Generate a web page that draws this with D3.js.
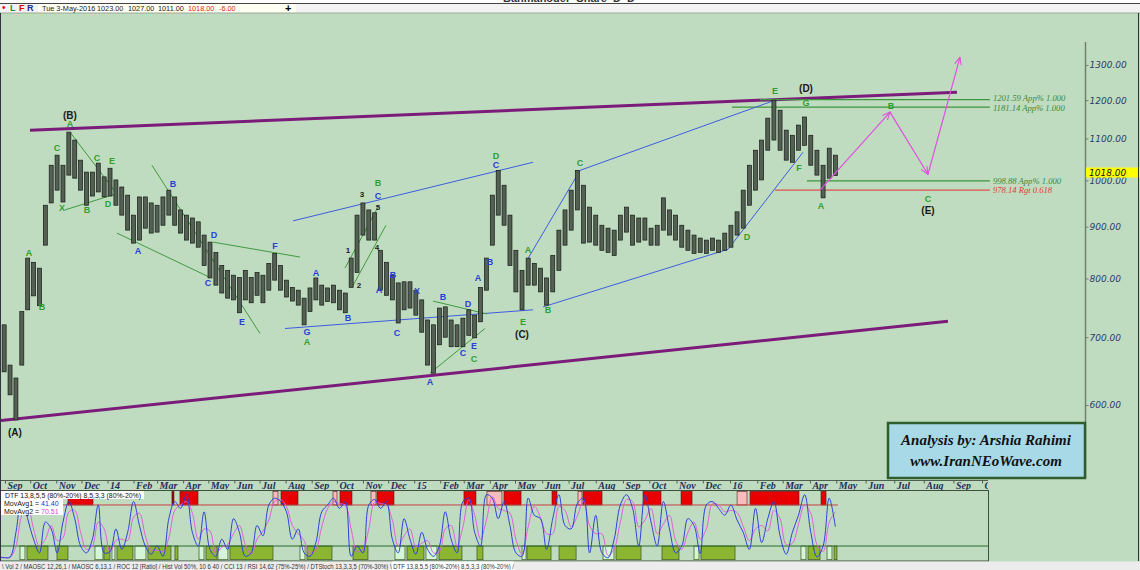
<!DOCTYPE html>
<html><head><meta charset="utf-8">
<script src="https://cdn.jsdelivr.net/npm/d3@7"></script>
<style>html,body{margin:0;padding:0;background:#fff;} svg{display:block;}</style>
</head><body><svg id="c" width="1140" height="570"></svg>
<script>
// ---------------- DATA ----------------
const weekStart = new Date(2013, 7, 24); // weekly bars start
const barHigh = [740,720,657,638,742,838,830,819,945,1035,
1059,1035,1116,1096,1047,1019,1019,1040,1008,1028,
1001,985,967,924,963,963,950,945,963,978,
963,935,924,918,910,883,869,849,824,815,
806,802,815,802,811,806,828,847,824,797,
784,779,765,783,801,788,783,788,779,774,
838,924,950,935,929,853,830,806,792,794,
794,779,762,728,720,748,750,728,720,731,
745,736,784,838,967,1023,989,924,853,815,
838,828,819,801,843,893,935,978,1023,989,
941,924,903,897,893,924,941,924,918,918,
897,903,961,935,924,903,893,883,877,873,
877,873,887,903,931,978,1035,1071,1096,1152,
1200,1173,1121,1108,1134,1155,1108,1071,1035,1076,
1059];
const barLow = [677,647,614,580,657,745,769,752,863,950,
978,952,1012,1005,978,945,965,974,963,965,
945,924,893,867,873,897,887,889,903,924,
903,887,873,867,859,824,801,788,774,765,
762,740,762,757,770,757,779,797,779,767,
760,753,720,742,762,753,759,757,745,740,
784,811,883,873,873,779,770,762,723,745,
748,736,708,657,645,688,700,685,685,685,
703,699,725,779,863,924,903,824,776,745,
788,788,776,753,776,815,863,893,935,867,
869,863,853,849,843,873,889,863,869,873,
863,863,893,883,873,859,853,847,849,847,
853,849,853,859,883,897,945,978,1001,1071,
1096,1071,1047,1042,1071,1083,1035,1012,961,1005,
1011];
const lastPrice = 1018;
const priceTicks = [600,700,800,900,1000,1100,1200,1300];
const monthLabels = ["Sep","Oct","Nov","Dec","14","Feb","Mar","Apr","May","Jun","Jul","Aug",
"Sep","Oct","Nov","Dec","15","Feb","Mar","Apr","May","Jun","Jul","Aug",
"Sep","Oct","Nov","Dec","16","Feb","Mar","Apr","May","Jun","Jul","Aug","Sep","Oct"];

// oscillator (DTF) weekly values
const movAvg1 = [3,3,4,40,95,60,30,10,55,45,
10,55,85,60,20,10,30,80,10,12,
45,15,40,85,50,20,8,20,5,60,
85,75,95,40,20,70,15,5,30,15,
60,40,5,10,50,35,80,90,85,70,
30,45,10,5,25,70,80,90,75,85,
5,20,10,80,88,75,85,30,10,60,
30,8,40,15,5,20,70,30,10,85,
90,40,20,95,90,60,85,50,10,5,
90,65,60,15,60,95,50,45,82,90,
10,65,10,3,30,80,95,75,20,95,
55,20,85,45,10,20,60,50,9,80,
85,75,65,80,58,40,15,75,25,60,
85,35,8,40,65,95,40,4,20,90,
48];
const movAvg2 = [5,3,3,20,65,78,45,20,30,50,
28,32,70,72,40,15,20,55,45,11,
28,30,28,62,68,35,14,14,12,32,
72,80,85,68,30,45,42,10,18,22,
38,50,22,8,30,42,58,85,88,78,
50,38,28,8,15,48,75,85,82,80,
45,12,15,45,84,82,80,58,20,35,
45,19,24,28,10,12,45,50,20,48,
88,65,30,58,92,75,72,68,30,8,
48,78,62,38,38,78,72,48,64,86,
50,38,38,6,16,55,88,85,48,58,
75,38,52,65,28,15,40,55,30,45,
82,80,70,72,69,49,28,45,50,42,
72,60,22,24,52,80,68,22,12,55,
70];
const movAvg1Last = "41.40", movAvg2Last = "70.51";
// zone boxes [startWeek, endWeek, kind]
const topBoxes = [[11.85,16.10,"r"],[29.53,29.87,"d"],[30.89,33.96,"r"],[46.71,47.56,"p"],[48.07,50.96,"r"],
[56.91,57.59,"p"],[58.10,60.14,"r"],[63.37,64.22,"p"],[64.39,67.28,"r"],[79.18,81.22,"r"],
[83.09,85.64,"p"],[85.98,88.84,"r"],[93.88,94.69,"r"],[98.11,98.76,"p"],[98.93,102.02,"r"],
[108.69,111.62,"r"],[114.88,116.67,"r"],[124.00,125.62,"p"],[126.11,134.08,"r"],[137.66,138.48,"r"]];
const bottomBoxes = [[3.69,4.54,"l"],[4.88,8.45,"g"],[9.98,11.85,"g"],[16.44,17.80,"l"],[17.97,18.99,"g"],
[19.33,19.84,"l"],[20.18,22.90,"g"],[23.24,25.11,"l"],[25.45,29.36,"g"],[30.04,30.55,"g"],
[34.13,34.98,"l"],[35.31,37.19,"g"],[37.36,39.05,"l"],[39.39,46.71,"g"],[51.30,52.15,"l"],
[52.49,56.74,"g"],[60.31,62.86,"g"],[67.45,69.15,"l"],[69.49,72.38,"g"],[72.72,74.59,"l"],
[74.93,78.84,"g"],[81.39,82.41,"g"],[89.00,89.65,"l"],[89.81,93.72,"g"],[95.02,97.80,"g"],
[102.18,103.97,"l"],[104.30,108.37,"g"],[111.78,114.55,"g"],[116.99,117.80,"l"],[118.13,123.67,"g"],
[134.40,135.22,"l"],[135.55,137.50,"g"],[138.64,139.45,"l"],[139.78,140.26,"g"]];

// annotations [week, price, text]
const degreeLabels = [[2.84,563,"(A)"],[12.19,1160,"(B)"],[89.00,704,"(C)"],[135.22,1233,"(D)"],[153.91,933,"(E)"]];
const greenLabels = [[5.22,849,"A"],[7.43,750,"B"],[9.98,1076,"C"],[10.83,939,"X"],[12.19,1136,"A"],[15.08,935,"B"],
[16.78,1052,"C"],[18.65,948,"D"],[19.33,1045,"E"],[52.49,692,"A"],[64.56,994,"B"],[80.88,666,"C"],[84.62,1057,"D"],
[89.16,725,"E"],[89.97,853,"A"],[93.23,745,"B"],[98.44,1040,"C"],[125.62,879,"D"],[130.18,1225,"E"],[134.08,1030,"F"],
[135.22,1192,"G"],[137.66,943,"A"],[148.37,1184,"B"],[153.91,958,"C"]];
const blueLabels = [[23.75,851,"A"],[29.70,992,"B"],[35.65,792,"C"],[36.67,883,"D"],[41.43,725,"E"],[47.04,861,"F"],
[52.49,708,"G"],[54.01,811,"A"],[59.46,731,"B"],[64.56,965,"C"],[64.73,779,"A"],[67.11,806,"B"],[67.79,707,"C"],
[71.19,777,"X"],[75.61,767,"B"],[73.40,632,"A"],[79.01,675,"C"],[79.86,755,"D"],[80.88,686,"E"],[81.56,802,"A"],
[83.60,830,"B"],[84.62,1035,"C"]];
const numLabels = [[59.46,853,"1"],[61.33,788,"2"],[61.84,969,"3"],[64.39,859,"4"],[64.56,941,"5"]];
const purpleLines = [[[5.39,1121],[158.25,1222]],[[0.29,579],[156.9,726]]];
const blueLines = [[[48.75,714],[90.79,745]],[[50.11,912],[90.79,1042]],[[89.81,834],[98.44,1023]],
[[98.44,1023],[130.18,1200]],[[92.42,750],[122.53,855],[134.73,1066]]];
const greenLines = [[[12.19,1116],[20.35,967]],[[11.34,935],[19.84,969]],[[26.13,1035],[44.50,706]],
[[20.18,887],[35.99,802]],[[36.50,869],[51.30,840]],[[58.95,819],[64.56,941]],[[60.14,784],[65.92,903]],
[[73.91,760],[83.09,738]],[[73.40,645],[82.75,714]]];
const levels = [[1201.59,127.73,"1201.59 App% 1.000","g",-1.2],[1181.14,123.18,"1181.14 App% 1.000","g",1.2],
[998.88,135.38,"998.88 App% 1.000","g",0],[978.14,130.18,"978.14 Rgt 0.618","r",0]];
const levelEnd = 163.19;
const projection = [[137.5,978],[148.22,1168],[153.91,1014],[158.70,1323]];

// ---------------- SCALES ----------------
const svg = d3.select("#c");
const x = d3.scaleTime()
  .domain([new Date(2013,8,1), new Date(2015,4,1), new Date(2016,4,3), new Date(2016,9,1)])
  .range([5,515,838,982]);
const wd = w => new Date(weekStart.getTime() + w*7*864e5);
const xw = w => x(wd(w));
const y = d3.scaleLog().domain([600,1300]).range([405,65]);
const oy = d3.scaleLinear().domain([0,100]).range([559.7,491.3]);
const BG = "#c0dcc0";

svg.append("rect").attr("width",1140).attr("height",570).attr("fill",BG);

// header
svg.append("rect").attr("x",0).attr("y",0).attr("width",1140).attr("height",13).attr("fill","#f3f3f3");
svg.append("rect").attr("x",0).attr("y",0).attr("width",1140).attr("height",3).attr("fill","#fff");
svg.append("text").attr("x",569).attr("y",2).attr("text-anchor","middle").attr("font-family","Liberation Sans")
  .attr("font-size",11).attr("font-weight","bold").attr("fill","#333").text("Bahmanoder_Share_D_D");
svg.append("line").attr("x1",0).attr("x2",1140).attr("y1",3.5).attr("y2",3.5).attr("stroke","#444");
svg.append("rect").attr("x",38).attr("y",4).attr("width",258).attr("height",9).attr("fill","#fffff2");
svg.append("line").attr("x1",0).attr("x2",1140).attr("y1",13).attr("y2",13).attr("stroke","#9aa89a");
const hdr = svg.append("g").attr("font-family","Liberation Sans").attr("font-size",7.3);
hdr.append("text").attr("x",2).attr("y",11).attr("fill","#e00").attr("font-size",10).text("•");
hdr.append("text").attr("x",10).attr("y",11).attr("fill","#2a8a2a").attr("font-weight","bold").attr("font-size",9).text("L");
hdr.append("text").attr("x",19).attr("y",11).attr("fill","#d00").attr("font-weight","bold").attr("font-size",9).text("F");
hdr.append("text").attr("x",27).attr("y",11).attr("fill","#1a2aa0").attr("font-weight","bold").attr("font-size",9).text("R");
[["Tue 3-May-2016",42,"#222"],["1023.00",97,"#222"],["1027.00",128,"#222"],["1011.00",158,"#222"],
 ["1018.00",188,"#e02020"],["-6.00",219,"#e02020"]].forEach(t=>{
  hdr.append("text").attr("x",t[1]).attr("y",11).attr("fill",t[2]).text(t[0]);
});
hdr.append("text").attr("x",285).attr("y",12).attr("font-size",11).attr("font-weight","bold").attr("fill","#000").text("+");

// clip for main
svg.append("clipPath").attr("id","mc").append("rect").attr("x",1).attr("y",14).attr("width",1084).attr("height",465);
const main = svg.append("g").attr("clip-path","url(#mc)");

const line = d3.line().x(d=>xw(d[0])).y(d=>y(d[1]));

// purple channel
main.selectAll(".pl").data(purpleLines).join("path").attr("d",line)
  .attr("stroke","#7b1c7b").attr("stroke-width",3).attr("fill","none");

// levels
main.selectAll(".lv").data(levels).join("line")
  .attr("x1",d=>xw(d[1])).attr("x2",xw(levelEnd)).attr("y1",d=>y(d[0])).attr("y2",d=>y(d[0]))
  .attr("stroke",d=>d[3]==="g"?"#3c963c":"#e05050").attr("stroke-width",1.2);
main.selectAll(".lvt").data(levels).join("text")
  .attr("x",xw(levelEnd)+3).attr("y",d=>y(d[0])+d[4]).attr("dy","0.35em")
  .attr("font-family","Liberation Serif").attr("font-style","italic").attr("font-size",8.6)
  .attr("fill",d=>d[3]==="g"?"#3a8a3a":"#e03a3a").text(d=>d[2]);

// blue and green lines
main.selectAll(".bl").data(blueLines).join("path").attr("d",line)
  .attr("stroke","#3d5ce0").attr("stroke-width",1).attr("fill","none");
main.selectAll(".gl").data(greenLines).join("path").attr("d",line)
  .attr("stroke","#3f9a3f").attr("stroke-width",1).attr("fill","none");

// price bars
const bars = barHigh.map((h,i)=>({d:d3.timeDay.offset(weekStart,7*i),h,l:barLow[i]}));
main.selectAll(".bar").data(bars).join("rect")
  .attr("x",d=>x(d.d)-2).attr("width",4)
  .attr("y",d=>y(d.h)).attr("height",d=>y(d.l)-y(d.h))
  .attr("fill","#546054").attr("stroke","#141a14").attr("stroke-width",0.7);

// projection path (magenta)
const defs = svg.append("defs");
defs.append("marker").attr("id","ar").attr("viewBox","0 0 10 10").attr("refX",9).attr("refY",5)
  .attr("markerWidth",7).attr("markerHeight",7).attr("orient","auto-start-reverse")
  .append("path").attr("d","M0,1 L9,5 L0,9").attr("fill","none").attr("stroke","#e050e0").attr("stroke-width",1.3);
const segs = d3.pairs(projection);
main.selectAll(".pj").data(segs).join("path").attr("d",line)
  .attr("stroke","#e050e0").attr("stroke-width",1.2).attr("fill","none").attr("marker-end","url(#ar)");

// labels
function labels(data, color, size, weight){
  main.append("g").selectAll("text").data(data).join("text")
    .attr("x",d=>xw(d[0])).attr("y",d=>y(d[1])).attr("dy","0.35em").attr("text-anchor","middle")
    .attr("font-family","Liberation Sans").attr("font-size",size).attr("font-weight",weight)
    .attr("fill",color).text(d=>d[2]);
}
labels(greenLabels,"#2f9f2f",9,"bold");
labels(blueLabels,"#2a3fd6",9,"bold");
labels(numLabels,"#222",8,"bold");
labels(degreeLabels,"#1a1a1a",10,"bold");

// price axis
svg.append("line").attr("x1",1085.5).attr("x2",1085.5).attr("y1",42).attr("y2",478).attr("stroke","#6f826f").attr("stroke-width",1.5);
const ya = svg.append("g").attr("transform","translate(1085.5,0)")
  .call(d3.axisRight(y).tickValues(priceTicks).tickFormat(d3.format(".2f")).tickSize(3).tickPadding(1));
ya.select(".domain").remove();
ya.selectAll("line").attr("stroke","#6f826f");
ya.selectAll("text").attr("font-family","DejaVu Sans").attr("font-style","italic").attr("font-size",9).attr("fill","#2b3a6b");
svg.append("rect").attr("x",1086).attr("y",y(lastPrice)-5).attr("width",54).attr("height",10).attr("fill","#ffff00");
svg.append("text").attr("x",1089).attr("y",y(lastPrice)).attr("dy","0.35em").attr("font-family","DejaVu Sans")
  .attr("font-style","italic").attr("font-size",9).attr("fill","#111").text(lastPrice.toFixed(2));

// analysis box
svg.append("rect").attr("x",888).attr("y",423).attr("width",197).attr("height",55)
  .attr("fill","#a8d9e6").attr("stroke","#2e5e2e").attr("stroke-width",2.5);
svg.append("text").attr("x",986).attr("y",445).attr("text-anchor","middle").attr("font-family","Liberation Serif")
  .attr("font-style","italic").attr("font-weight","bold").attr("font-size",15).attr("fill","#111").text("Analysis by: Arshia Rahimi");
svg.append("text").attr("x",986).attr("y",466).attr("text-anchor","middle").attr("font-family","Liberation Serif")
  .attr("font-style","italic").attr("font-weight","bold").attr("font-size",15).attr("fill","#111").text("www.IranNEoWave.com");

// time axis
svg.append("clipPath").attr("id","tc").append("rect").attr("x",0).attr("y",470).attr("width",988).attr("height",25);
svg.append("line").attr("x1",0).attr("x2",988).attr("y1",480.5).attr("y2",480.5).attr("stroke","#4f5f4f");
const months = d3.timeMonth.range(new Date(2013,8,1), new Date(2016,10,1));
const xa = svg.append("g").attr("clip-path","url(#tc)").append("g").attr("transform","translate(0,480.5)")
  .call(d3.axisBottom(x).tickValues(months).tickFormat((d,i)=>monthLabels[i]).tickSize(3).tickPadding(0));
xa.select(".domain").remove();
xa.selectAll("line").attr("stroke","#4f5f4f");
xa.selectAll("text").attr("text-anchor","start").attr("dx","2").attr("dy","0.55em")
  .attr("font-family","Liberation Serif").attr("font-style","italic").attr("font-weight","bold")
  .attr("font-size",10).attr("fill","#24305e");

// oscillator panel
svg.append("rect").attr("x",0.5).attr("y",490.5).attr("width",988).attr("height",70.5).attr("fill","none").attr("stroke","#3f4f3f");
const osc = svg.append("g");
const boxColor = {r:"#e80000",d:"#9a0000",p:"#f8bcbc",g:"#8ab632",l:"#d4f6d4"};
osc.selectAll(".tb").data(topBoxes).join("rect")
  .attr("x",d=>xw(d[0])).attr("width",d=>Math.max(1,xw(d[1])-xw(d[0])))
  .attr("y",oy(100)).attr("height",oy(80)-oy(100))
  .attr("fill",d=>boxColor[d[2]]).attr("stroke","#5a1a1a").attr("stroke-width",0.6);
osc.selectAll(".bb").data(bottomBoxes).join("rect")
  .attr("x",d=>xw(d[0])).attr("width",d=>Math.max(1,xw(d[1])-xw(d[0])))
  .attr("y",oy(20)).attr("height",oy(0)-oy(20))
  .attr("fill",d=>boxColor[d[2]]).attr("stroke","#3a5220").attr("stroke-width",0.7);
osc.append("line").attr("x1",1).attr("x2",xw(140.4)).attr("y1",oy(80)).attr("y2",oy(80)).attr("stroke","#c84040");
osc.append("line").attr("x1",1).attr("x2",988).attr("y1",oy(20)).attr("y2",oy(20)).attr("stroke","#2c6a2c");
svg.append("clipPath").attr("id","oc").append("rect").attr("x",1).attr("y",491).attr("width",987).attr("height",70);
const oline = d3.line().x((d,i)=>xw(i)).y(d=>oy(d)).curve(d3.curveCatmullRom);
osc.append("path").attr("clip-path","url(#oc)").attr("d",oline(movAvg2)).attr("fill","none").attr("stroke","#e060e0").attr("stroke-width",1);
osc.append("path").attr("clip-path","url(#oc)").attr("d",oline(movAvg1)).attr("fill","none").attr("stroke","#2a40e0").attr("stroke-width",1);

// oscillator legend
const lg = svg.append("g").attr("font-family","Liberation Sans").attr("font-size",7);
lg.append("rect").attr("x",1).attr("y",491).attr("width",143).attr("height",8).attr("fill","#fff");
lg.append("rect").attr("x",1).attr("y",499).attr("width",62).attr("height",16).attr("fill","#fff");
lg.append("text").attr("x",5).attr("y",497.5).attr("fill","#111").attr("textLength",136).attr("lengthAdjust","spacingAndGlyphs")
  .text("DTF 13,8,5,5 (80%-20%) 8,5,3,3 (80%-20%)");
const t1 = lg.append("text").attr("x",4).attr("y",505.5).attr("fill","#111");
t1.append("tspan").text("MovAvg1 = "); t1.append("tspan").attr("fill","#2030e0").text(movAvg1Last);
const t2 = lg.append("text").attr("x",4).attr("y",513.5).attr("fill","#111");
t2.append("tspan").text("MovAvg2 = "); t2.append("tspan").attr("fill","#e040e0").text(movAvg2Last);

// bottom tabs
svg.append("rect").attr("x",0).attr("y",561.5).attr("width",1140).attr("height",9).attr("fill","#ececec");
svg.append("rect").attr("x",392).attr("y",561.5).attr("width",122).attr("height",9).attr("fill","#ffffff");
svg.append("text").attr("x",2).attr("y",569).attr("font-family","Liberation Sans").attr("font-size",7).attr("fill","#333")
  .attr("textLength",512).attr("lengthAdjust","spacingAndGlyphs")
  .text("\\ Vol 2 / MAOSC 12,26,1 / MAOSC 6,13,1 / ROC 12 [Ratio] / Hist Vol 50%, 10 6 40 / CCI 13 / RSI 14,62 (75%-25%) / DTStoch 13,3,3,5 (70%-30%) \\ DTF 13,8,5,5 (80%-20%) 8,5,3,3 (80%-20%) /");

// borders
svg.append("line").attr("x1",0.5).attr("x2",0.5).attr("y1",13).attr("y2",561).attr("stroke","#334");
svg.append("line").attr("x1",1138.5).attr("x2",1138.5).attr("y1",13).attr("y2",561).attr("stroke","#333");
</script></body></html>
